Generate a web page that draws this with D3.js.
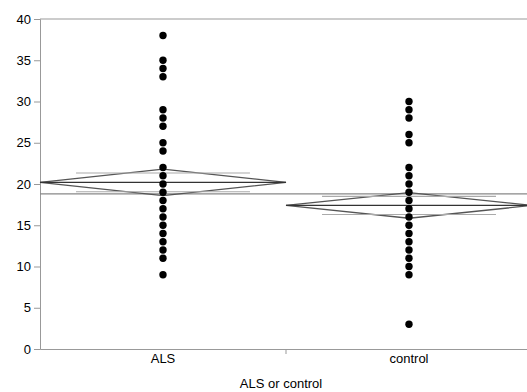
<!DOCTYPE html>
<html>
<head>
<meta charset="utf-8">
<script src="https://cdn.jsdelivr.net/npm/d3@7/dist/d3.min.js"></script>
<style>
  body { margin: 0; background: #fff; }
  svg { font-family: "Liberation Sans", Arial, sans-serif; }
  .axis-label { font-size: 13px; fill: #000; }
</style>
</head>
<body>
<div id="chart"></div>
<script>
// Data
const groups = ["ALS", "control"];
const alsValues = [38, 35, 34, 33, 29, 28, 27, 25, 24, 22, 21, 20, 19, 18, 17, 16, 15, 14, 13, 12, 11, 9];
const controlValues = [30, 29, 28, 26, 25, 22, 21, 20, 19, 18, 17, 16, 15, 14, 13, 12, 11, 10, 9, 3];
const groupMeans = [20.2, 17.4];
const ciHalf = [1.6, 1.55];
const grandMean = 18.8;
const yTicks = [0, 5, 10, 15, 20, 25, 30, 35, 40];

const margin = { top: 19, right: -5, bottom: 43, left: 40 };
const width = 527 - margin.left - margin.right;
const height = 392 - margin.top - margin.bottom;

const svg = d3.select("#chart")
    .append("svg")
    .attr("width", 527)
    .attr("height", 392)
    .append("g")
    .attr("transform", `translate(${margin.left},${margin.top})`);

const x = d3.scaleBand()
    .domain(groups)
    .range([0, width]);

const y = d3.scaleLinear()
    .domain([0, 40])
    .range([height, 0]);

// Frame: top line
svg.append("line")
    .attr("x1", 0).attr("x2", width)
    .attr("y1", 0).attr("y2", 0)
    .attr("stroke", "#999");

// Y axis
const yAxis = svg.append("g")
    .call(d3.axisLeft(y).tickValues(yTicks).tickSize(6).tickPadding(3));
yAxis.select(".domain").attr("stroke", "#999");
yAxis.selectAll(".tick line").attr("stroke", "#999");
yAxis.selectAll("text").attr("class", "axis-label");

// X axis
const xAxis = svg.append("g")
    .attr("transform", `translate(0,${height})`)
    .call(d3.axisBottom(x).tickSize(0).tickPadding(5));
xAxis.select(".domain").attr("stroke", "#999");
xAxis.selectAll("text").attr("class", "axis-label");

// separator tick between groups
svg.append("line")
    .attr("x1", x("control")).attr("x2", x("control"))
    .attr("y1", height).attr("y2", height + 5)
    .attr("stroke", "#999");

// X axis title
svg.append("text")
    .attr("class", "axis-label")
    .attr("x", 241)
    .attr("y", height + 39)
    .attr("text-anchor", "middle")
    .text("ALS or control");

// Grand mean line
svg.append("line")
    .attr("x1", 0).attr("x2", width)
    .attr("y1", y(grandMean)).attr("y2", y(grandMean))
    .attr("stroke", "#888")
    .attr("stroke-width", 1.1);

// Means diamonds
groups.forEach((g, i) => {
    const x0 = x(g);
    const x1 = x0 + x.bandwidth();
    const cx = x0 + x.bandwidth() / 2;
    const m = groupMeans[i];
    const h = ciHalf[i];

    svg.append("path")
        .attr("d", `M${x0},${y(m)} L${cx},${y(m + h)} L${x1},${y(m)} L${cx},${y(m - h)} Z`)
        .attr("fill", "none")
        .attr("stroke", "#555")
        .attr("stroke-width", 1.3);

    svg.append("line")
        .attr("x1", x0).attr("x2", x1)
        .attr("y1", y(m)).attr("y2", y(m))
        .attr("stroke", "#333")
        .attr("stroke-width", 1.2);

    // overlap marks
    const o = h / Math.SQRT2;
    const w = x.bandwidth() / 2 * (1 - o / h);
    [m + o, m - o].forEach(v => {
        svg.append("line")
            .attr("x1", x0 + w).attr("x2", x1 - w)
            .attr("y1", y(v)).attr("y2", y(v))
            .attr("stroke", "#aaa")
            .attr("stroke-width", 1.1);
    });
});

// Points
const points = [
    ...alsValues.map(v => ({ g: "ALS", v })),
    ...controlValues.map(v => ({ g: "control", v }))
];

svg.selectAll(".dot")
    .data(points)
    .enter()
    .append("circle")
    .attr("class", "dot")
    .attr("cx", d => x(d.g) + x.bandwidth() / 2)
    .attr("cy", d => y(d.v))
    .attr("r", 3.7)
    .attr("fill", "#000");
</script>
</body>
</html>
